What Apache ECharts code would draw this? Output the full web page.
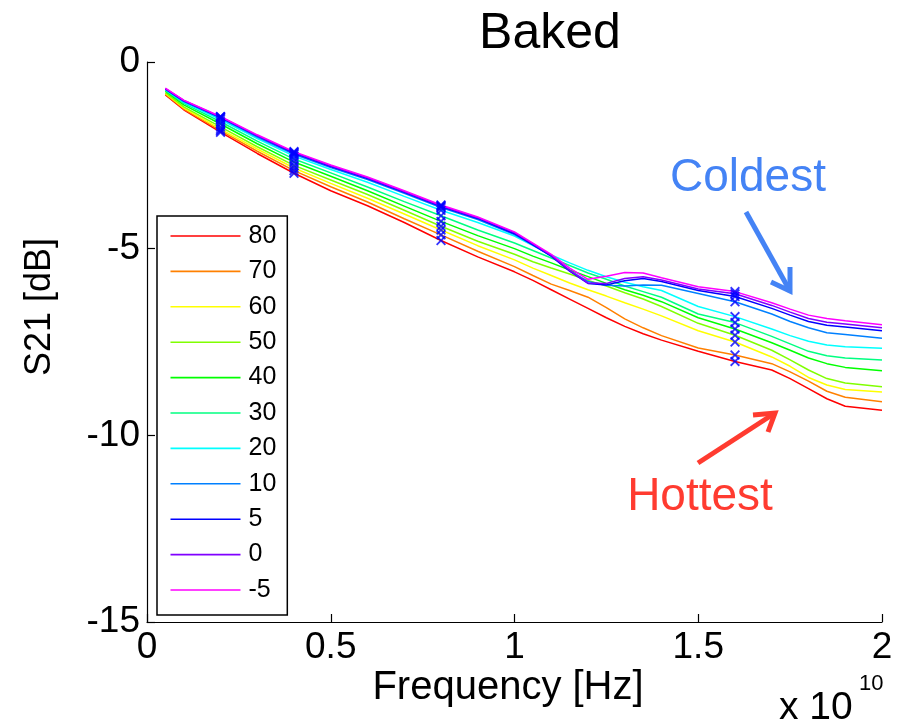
<!DOCTYPE html>
<html>
<head>
<meta charset="utf-8">
<script src="https://cdn.jsdelivr.net/npm/echarts@6/dist/echarts.min.js"></script>
<style>html,body{margin:0;padding:0;background:#fff}#c{width:913px;height:725px}</style>
</head>
<body>
<div id="c"></div>
<script>
// Frequency (x 1e10 Hz)
var freq = [0.05,0.1,0.2,0.3,0.4,0.5,0.6,0.7,0.8,0.9,1.0,1.05,1.1,1.15,1.2,1.25,1.3,1.35,1.4,1.5,1.6,1.7,1.75,1.8,1.85,1.9,2.0];
var temps = ['80','70','60','50','40','30','20','10','5','0','-5'];
var s80 = [-0.88,-1.28,-1.88,-2.45,-2.98,-3.45,-3.85,-4.30,-4.78,-5.22,-5.62,-5.85,-6.10,-6.35,-6.60,-6.85,-7.08,-7.28,-7.45,-7.75,-8.02,-8.25,-8.48,-8.75,-9.02,-9.22,-9.33];
var s70 = [-0.86,-1.26,-1.84,-2.39,-2.91,-3.34,-3.75,-4.20,-4.63,-5.07,-5.48,-5.72,-5.95,-6.12,-6.30,-6.58,-6.88,-7.12,-7.33,-7.66,-7.85,-8.08,-8.30,-8.55,-8.82,-8.98,-9.10];
var s60 = [-0.84,-1.23,-1.80,-2.33,-2.84,-3.25,-3.65,-4.07,-4.50,-4.92,-5.30,-5.52,-5.72,-5.92,-6.10,-6.27,-6.45,-6.62,-6.80,-7.20,-7.50,-7.90,-8.15,-8.45,-8.65,-8.77,-8.84];
var s50 = [-0.82,-1.20,-1.74,-2.27,-2.77,-3.16,-3.55,-3.97,-4.40,-4.80,-5.15,-5.35,-5.52,-5.68,-5.85,-6.00,-6.18,-6.35,-6.55,-7.00,-7.32,-7.72,-7.98,-8.25,-8.48,-8.60,-8.70];
var s40 = [-0.78,-1.15,-1.66,-2.19,-2.68,-3.06,-3.45,-3.86,-4.27,-4.65,-5.00,-5.20,-5.38,-5.57,-5.75,-5.93,-6.10,-6.25,-6.42,-6.85,-7.15,-7.52,-7.72,-7.93,-8.08,-8.18,-8.27];
var s30 = [-0.76,-1.11,-1.60,-2.12,-2.60,-2.97,-3.35,-3.74,-4.12,-4.50,-4.85,-5.05,-5.25,-5.45,-5.65,-5.82,-6.00,-6.15,-6.30,-6.75,-6.98,-7.35,-7.55,-7.75,-7.87,-7.93,-7.98];
var s20 = [-0.74,-1.08,-1.54,-2.05,-2.52,-2.88,-3.22,-3.60,-3.97,-4.30,-4.66,-4.92,-5.17,-5.38,-5.58,-5.75,-5.90,-6.02,-6.12,-6.55,-6.82,-7.15,-7.33,-7.48,-7.58,-7.63,-7.67];
var s10 = [-0.73,-1.06,-1.50,-2.01,-2.47,-2.83,-3.15,-3.52,-3.90,-4.22,-4.62,-4.90,-5.20,-5.58,-5.88,-5.98,-6.00,-5.97,-5.98,-6.20,-6.42,-6.75,-6.95,-7.12,-7.25,-7.30,-7.40];
var s5  = [-0.72,-1.04,-1.48,-1.98,-2.44,-2.80,-3.12,-3.49,-3.87,-4.19,-4.60,-4.90,-5.20,-5.60,-5.93,-5.97,-5.86,-5.80,-5.88,-6.12,-6.28,-6.60,-6.78,-6.95,-7.05,-7.10,-7.20];
var s0  = [-0.71,-1.03,-1.47,-1.97,-2.42,-2.78,-3.10,-3.47,-3.85,-4.17,-4.57,-4.87,-5.18,-5.58,-5.92,-5.93,-5.80,-5.75,-5.84,-6.08,-6.21,-6.52,-6.70,-6.87,-6.97,-7.02,-7.12];
var sm5 = [-0.70,-1.02,-1.46,-1.95,-2.40,-2.76,-3.08,-3.45,-3.83,-4.15,-4.55,-4.85,-5.15,-5.52,-5.82,-5.74,-5.64,-5.65,-5.78,-6.02,-6.15,-6.45,-6.62,-6.78,-6.87,-6.93,-7.04];
var markerFreqs = [0.2,0.4,0.8,1.6];

var seriesVals = [s80,s70,s60,s50,s40,s30,s20,s10,s5,s0,sm5];
var colors = ['#ff0000','#ff8000','#ffff00','#80ff00','#00ff00','#00ff80','#00ffff','#0080ff','#0000ff','#8000ff','#ff00ff'];
var FONT = "'Liberation Sans', Arial, Helvetica, sans-serif";

var series = [];
seriesVals.forEach(function (vals, i) {
  series.push({
    name: temps[i], type: 'line', symbol: 'none', showSymbol: false,
    data: freq.map(function (f, k) { return [f, vals[k]]; }),
    lineStyle: { color: colors[i], width: 1.5 }, itemStyle: { color: colors[i] },
    z: 2 + i
  });
});
var markerData = [];
seriesVals.forEach(function (vals) {
  markerFreqs.forEach(function (mf) {
    var k = freq.indexOf(mf);
    markerData.push([mf, vals[k]]);
  });
});
series.push({
  name: 'markers', type: 'scatter', data: markerData, z: 20,
  symbol: 'path://M0,1.3L1.3,0L5,3.7L8.7,0L10,1.3L6.3,5L10,8.7L8.7,10L5,6.3L1.3,10L0,8.7L3.7,5Z',
  symbolSize: 10, itemStyle: { color: '#0000ff' }, silent: true
});

var chart = echarts.init(document.getElementById('c'));
chart.setOption({
  animation: false,
  backgroundColor: '#fff',
  grid: { left: 147, top: 62, width: 735, height: 560, containLabel: false },
  xAxis: {
    type: 'value', min: 0, max: 2, interval: 0.5,
    axisLine: { show: true, onZero: false, lineStyle: { color: '#000', width: 1.2 } },
    axisTick: { show: true, inside: true, length: 8, lineStyle: { color: '#000', width: 1.2 } },
    axisLabel: { color: '#000', fontSize: 37, fontFamily: FONT, margin: 7 },
    splitLine: { show: false }
  },
  yAxis: {
    type: 'value', min: -15, max: 0, interval: 5,
    axisLine: { show: true, onZero: false, lineStyle: { color: '#000', width: 1.2 } },
    axisTick: { show: true, inside: true, length: 8, lineStyle: { color: '#000', width: 1.2 } },
    axisLabel: { color: '#000', fontSize: 37, fontFamily: FONT, margin: 7 },
    splitLine: { show: false }
  },
  legend: {
    data: temps.map(function (t, i) { return { name: t, icon: 'rect', itemStyle: { color: colors[i] } }; }),
    orient: 'vertical', left: 157, top: 216,
    itemWidth: 70, itemHeight: 1.6, itemGap: 10.4,
    padding: [7.5, 11, 12.5, 13.5],
    borderColor: '#000', borderWidth: 1.5, backgroundColor: '#fff',
    textStyle: { color: '#000', fontSize: 25, fontFamily: FONT, lineHeight: 25, padding: [0, 0, 0, 3] },
    selectedMode: false
  },
  graphic: [
    { type: 'text', x: 550, y: 34, style: { text: 'Baked', fontSize: 50, fontFamily: FONT, fill: '#000', textAlign: 'center', textVerticalAlign: 'middle' } },
    { type: 'text', x: 40, y: 307, rotation: Math.PI / 2, style: { text: 'S21 [dB]', fontSize: 36, fontFamily: FONT, fill: '#000', textAlign: 'center', textVerticalAlign: 'middle' } },
    { type: 'text', x: 508, y: 688, style: { text: 'Frequency [Hz]', fontSize: 40, fontFamily: FONT, fill: '#000', textAlign: 'center', textVerticalAlign: 'middle' } },
    { type: 'text', x: 779, y: 708, style: { text: 'x 10', fontSize: 39, fontFamily: FONT, fill: '#000', textAlign: 'left', textVerticalAlign: 'middle' } },
    { type: 'text', x: 859, y: 684, style: { text: '10', fontSize: 22, fontFamily: FONT, fill: '#000', textAlign: 'left', textVerticalAlign: 'middle' } },
    { type: 'text', x: 748, y: 178, style: { text: 'Coldest', fontSize: 46, fontFamily: FONT, fill: '#4483F5', textAlign: 'center', textVerticalAlign: 'middle' } },
    { type: 'text', x: 700, y: 497, style: { text: 'Hottest', fontSize: 46, fontFamily: FONT, fill: '#FF3B30', textAlign: 'center', textVerticalAlign: 'middle' } },
    { type: 'polyline', shape: { points: [[746, 212], [790, 291]] }, style: { stroke: '#4483F5', lineWidth: 5, fill: null } },
    { type: 'polyline', shape: { points: [[771, 282], [790, 291], [790, 267]] }, style: { stroke: '#4483F5', lineWidth: 5, fill: null, lineJoin: 'miter' } },
    { type: 'polyline', shape: { points: [[698, 463], [775, 413]] }, style: { stroke: '#FF3B30', lineWidth: 5, fill: null } },
    { type: 'polyline', shape: { points: [[753, 415], [775, 413], [768, 432]] }, style: { stroke: '#FF3B30', lineWidth: 5, fill: null, lineJoin: 'miter' } }
  ],
  series: series
});
</script>
</body>
</html>
